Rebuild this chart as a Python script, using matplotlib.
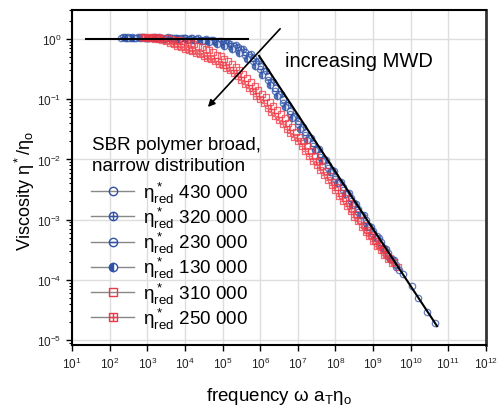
import numpy as np
import matplotlib
matplotlib.use("Agg")
import matplotlib.pyplot as plt
from matplotlib.path import Path
from matplotlib.lines import Line2D

plt.rcParams['font.family'] = ['Liberation Sans', 'DejaVu Sans']
plt.rcParams['mathtext.default'] = 'regular'

# ---- data (log10 of reduced frequency and of eta*/eta0) ----
s430_lx = [2.3, 2.4, 2.5, 2.6, 2.7, 2.8, 2.9, 3.0, 3.1, 3.2, 3.3, 3.4, 3.5, 3.6, 3.7, 3.8, 3.9,
           4.0, 4.1, 4.2, 4.3, 4.4, 4.5, 4.6, 4.7, 4.8, 4.9, 5.0, 5.1, 5.2, 5.3, 5.4, 5.5, 5.6,
           5.7, 5.8, 5.9, 6.0, 6.1, 6.2, 6.3, 6.4, 6.5, 6.6, 6.7, 6.8, 6.9, 7.0, 7.1, 7.2, 7.3,
           7.4, 7.5, 7.6, 7.7, 7.8, 7.9, 8.0, 8.1, 8.2, 8.3, 8.4, 8.5, 8.6, 8.7, 8.8, 8.9, 9.0,
           9.1, 9.2, 9.3, 9.4, 9.5, 9.6, 9.7, 9.79, 10.03, 10.19, 10.43, 10.64]
s430_ly = [0.02, 0.03, 0.04, 0.02, 0.02, 0.03, 0.03, 0.02, 0.02, 0.03, 0.03, 0.02, 0.01, 0.02,
           0.02, 0.01, 0.01, 0.01, 0.00, 0.01, 0.00, -0.01, -0.01, -0.01, -0.02, -0.03, -0.04,
           -0.05, -0.07, -0.09, -0.11, -0.14, -0.17, -0.21, -0.26, -0.32, -0.38, -0.45, -0.53,
           -0.62, -0.72, -0.81, -0.91, -1.00, -1.10, -1.19, -1.28, -1.37, -1.46, -1.55, -1.64,
           -1.73, -1.82, -1.91, -2.00, -2.09, -2.18, -2.28, -2.37, -2.46, -2.55, -2.64, -2.73,
           -2.83, -2.92, -3.01, -3.10, -3.19, -3.28, -3.38, -3.47, -3.56, -3.65, -3.75, -3.84,
           -3.90, -4.10, -4.30, -4.53, -4.71]

s320_lx = [2.35, 2.55, 2.75, 2.95, 3.15, 3.35, 3.55, 3.75, 3.95, 4.15, 4.35, 4.55, 4.75, 4.95,
           5.15, 5.35, 5.55, 5.75, 5.95, 6.15, 6.35, 6.55, 6.75, 6.95, 7.15, 7.35, 7.55, 7.75,
           7.95, 8.15, 8.35, 8.55, 8.75, 8.95, 9.15, 9.35, 9.55]
s320_ly = [0.03, 0.02, 0.04, 0.02, 0.03, 0.02, 0.03, 0.02, 0.02, 0.01, 0.01, 0.00, -0.01, -0.03,
           -0.06, -0.10, -0.16, -0.25, -0.37, -0.53, -0.72, -0.91, -1.10, -1.29, -1.47, -1.65, -1.83, -2.01,
           -2.19, -2.38, -2.56, -2.74, -2.93, -3.12, -3.30, -3.49, -3.67]

s230_lx = [2.40, 2.60, 2.80, 3.00, 3.20, 3.40, 3.60, 3.80, 4.00, 4.20, 4.40, 4.60, 4.80, 5.00,
           5.20, 5.40, 5.60, 5.80, 6.00, 6.20, 6.40, 6.60, 6.80, 7.00, 7.20, 7.40, 7.60, 7.80,
           8.00, 8.20, 8.40, 8.60, 8.80, 9.00, 9.20, 9.40, 9.60]
s230_ly = [0.01, 0.03, 0.02, 0.01, 0.02, 0.01, 0.02, 0.00, 0.01, -0.01, -0.01, -0.03, -0.05, -0.08,
           -0.12, -0.18, -0.26, -0.36, -0.50, -0.68, -0.87, -1.06, -1.24, -1.42, -1.60, -1.78, -1.96, -2.14,
           -2.32, -2.51, -2.69, -2.87, -3.05, -3.24, -3.42, -3.60, -3.78]

s130_lx = [2.45, 2.65, 2.85, 3.05, 3.25, 3.45, 3.65, 3.85, 4.05, 4.25, 4.45, 4.65, 4.85, 5.05,
           5.25, 5.45, 5.65, 5.85, 6.05, 6.25, 6.45, 6.65, 6.85, 7.05, 7.25, 7.45, 7.65, 7.85,
           8.05, 8.25, 8.45, 8.65, 8.85, 9.05, 9.25, 9.45]
s130_ly = [0.02, 0.01, 0.03, 0.01, 0.02, 0.00, 0.01, 0.00, -0.01, -0.02, -0.03, -0.05, -0.08, -0.12,
           -0.17, -0.24, -0.33, -0.45, -0.60, -0.77, -0.95, -1.13, -1.31, -1.49, -1.67, -1.85, -2.03, -2.21,
           -2.39, -2.57, -2.75, -2.93, -3.12, -3.30, -3.48, -3.66]

s310_lx = [2.85, 2.95, 3.05, 3.15, 3.25, 3.35, 3.45, 3.55, 3.65, 3.75, 3.85, 3.95, 4.05, 4.15,
           4.25, 4.35, 4.45, 4.55, 4.65, 4.75, 4.85, 4.95, 5.05, 5.15, 5.25, 5.35, 5.45, 5.55,
           5.65, 5.75, 5.85, 5.95, 6.05, 6.15, 6.25, 6.35, 6.45, 6.55, 6.65, 6.75, 6.85, 6.95,
           7.05, 7.15, 7.25, 7.35, 7.45, 7.55, 7.65, 7.75, 7.85, 7.95, 8.05, 8.15, 8.25, 8.35,
           8.45, 8.55, 8.65, 8.75, 8.85, 8.95, 9.05, 9.15, 9.25, 9.35, 9.45, 9.55, 9.65]
s310_ly = [0.04, 0.03, 0.04, 0.03, 0.03, 0.02, 0.02, 0.01, 0.00, -0.01, -0.02, -0.03, -0.05, -0.06,
           -0.08, -0.11, -0.13, -0.16, -0.19, -0.22, -0.26, -0.29, -0.33, -0.37, -0.41, -0.46, -0.52,
           -0.58, -0.64, -0.71, -0.78, -0.84, -0.91, -0.97, -1.04, -1.11, -1.18, -1.25, -1.32, -1.39,
           -1.47, -1.54, -1.62, -1.70, -1.78, -1.86, -1.94, -2.02, -2.11, -2.19, -2.28, -2.37, -2.46,
           -2.55, -2.64, -2.73, -2.82, -2.91, -3.00, -3.09, -3.17, -3.26, -3.35, -3.43, -3.50, -3.57,
           -3.64, -3.71, -3.78]

s250_lx = [2.9, 3.0, 3.1, 3.2, 3.3, 3.4, 3.5, 3.6, 3.7, 3.8, 3.9, 4.0, 4.1, 4.2, 4.3, 4.4, 4.5,
           4.6, 4.7, 4.8, 4.9, 5.0, 5.1, 5.2, 5.3, 5.4, 5.5, 5.6, 5.7, 5.8, 5.9, 6.0, 6.1, 6.2,
           6.3, 6.4, 6.5, 6.6, 6.7, 6.8, 6.9, 7.0, 7.1, 7.2, 7.3, 7.4, 7.5, 7.6, 7.7, 7.8, 7.9,
           8.0, 8.1, 8.2, 8.3, 8.4, 8.5, 8.6, 8.7, 8.8, 8.9, 9.0, 9.1, 9.2, 9.3, 9.4, 9.5]
s250_ly = [0.02, 0.01, 0.02, 0.00, 0.00, -0.02, -0.04, -0.06, -0.09, -0.11, -0.14, -0.16, -0.18,
           -0.20, -0.23, -0.25, -0.28, -0.31, -0.34, -0.37, -0.41, -0.44, -0.48, -0.52, -0.57, -0.62,
           -0.68, -0.74, -0.81, -0.87, -0.94, -1.00, -1.07, -1.14, -1.21, -1.28, -1.35, -1.42, -1.49,
           -1.56, -1.63, -1.70, -1.78, -1.86, -1.94, -2.02, -2.10, -2.18, -2.26, -2.34, -2.43, -2.51,
           -2.60, -2.69, -2.77, -2.86, -2.95, -3.03, -3.12, -3.20, -3.28, -3.36, -3.44, -3.51, -3.58,
           -3.65, -3.72]

labels = ['430 000', '320 000', '230 000', '130 000', '310 000', '250 000']

# master curve guide lines (log10 end points)
plateau_lx = [1.37, 5.68]
plateau_ly = [0.0, 0.0]
slope_lx = [5.97, 10.70]
slope_ly = [-0.28, -4.77]

# ---- markers ----
hline = Path([(-1, 0), (1, 0)], [Path.MOVETO, Path.LINETO])
vline = Path([(0, -1), (0, 1)], [Path.MOVETO, Path.LINETO])
circ = Path.unit_circle()
sq = Path([(-1, -1), (1, -1), (1, 1), (-1, 1), (-1, -1)],
          [Path.MOVETO, Path.LINETO, Path.LINETO, Path.LINETO, Path.CLOSEPOLY])
circ_plus = Path.make_compound_path(circ, hline, vline)
circ_minus = Path.make_compound_path(circ, hline)
sq_plus = Path.make_compound_path(sq, hline, vline)

blue = '#2f52a6'
red = '#ee3a46'

styles = [
    dict(marker='o', mec=blue, mfc='none'),
    dict(marker=circ_plus, mec=blue, mfc='none'),
    dict(marker=circ_minus, mec=blue, mfc='none'),
    dict(marker='o', mec=blue, mfc=blue, fillstyle='left', markerfacecoloralt='white'),
    dict(marker=sq, mec=red, mfc='none'),
    dict(marker=sq_plus, mec=red, mfc='none'),
]
series = [(s430_lx, s430_ly), (s320_lx, s320_ly), (s230_lx, s230_ly),
          (s130_lx, s130_ly), (s310_lx, s310_ly), (s250_lx, s250_ly)]

fig = plt.figure(figsize=(4.98, 4.10), dpi=100)
ax = fig.add_axes([0.1446, 0.1561, 0.8313, 0.8171])

for (lx, ly), st in zip(series, styles):
    ax.plot(10 ** np.array(lx), 10 ** np.array(ly), ls='none', ms=4.6, mew=0.9, alpha=0.75, **st)

ax.plot(10 ** np.array(plateau_lx), 10 ** np.array(plateau_ly), color='k', lw=1.5)
ax.plot(10 ** np.array(slope_lx), 10 ** np.array(slope_ly), color='k', lw=1.5)

ax.annotate('', xy=(10 ** 4.61, 10 ** -1.13), xytext=(10 ** 6.53, 10 ** 0.17),
            arrowprops=dict(arrowstyle='-|>', color='k', lw=1.2, mutation_scale=10,
                            shrinkA=0, shrinkB=0))
ax.text(10 ** 6.66, 10 ** -0.45, 'increasing MWD', fontsize=14.5, ha='left', va='baseline')

ax.set_xscale('log')
ax.set_yscale('log')
ax.set_xlim(1e1, 1e12)
ax.set_ylim(10 ** -5.083, 10 ** 0.482)
ax.set_xticks([10.0 ** k for k in range(1, 13)])
ax.set_yticks([10.0 ** k for k in range(-5, 1)])
ax.grid(True, which='major', color='#dddddd', lw=1)
ax.set_axisbelow(True)

ax.tick_params(which='both', direction='out', labelsize=8.5, labelcolor='#222222')
ax.tick_params(which='major', length=4, width=1)
ax.tick_params(which='minor', length=2.5, width=0.8)
for side in ['left', 'bottom', 'top']:
    ax.spines[side].set_linewidth(1.5)
ax.spines['right'].set_linewidth(2)
ax.spines['right'].set_color('#333333')

ax.set_xlabel(r'frequency $\omega$ $a_T\eta_o$', fontsize=13.5, labelpad=10)
ax.set_ylabel(r'Viscosity $\eta^*/\eta_o$', fontsize=13)
ax.yaxis.set_label_coords(-0.084, 0.463)

# legend title as its own text block, entries below it
fig.text(92 / 498, 1 - 137 / 410, 'SBR polymer broad,\nnarrow distribution',
         fontsize=13.6, va='top', ha='left', linespacing=1.3)
handles = [Line2D([], [], color='#888888', lw=1, ms=6, mew=1, **st) for st in styles]
leg_labels = [r'$\eta^*_{red}$ ' + lab for lab in labels]
ax.legend(handles, leg_labels, loc='upper left', bbox_to_anchor=(91 / 498, 1 - 180.5 / 410),
          bbox_transform=fig.transFigure, frameon=False, fontsize=13.6,
          handlelength=2.3, handletextpad=0.45, labelspacing=0.01, borderpad=0, borderaxespad=0)

fig.savefig('out.png', dpi=100)
